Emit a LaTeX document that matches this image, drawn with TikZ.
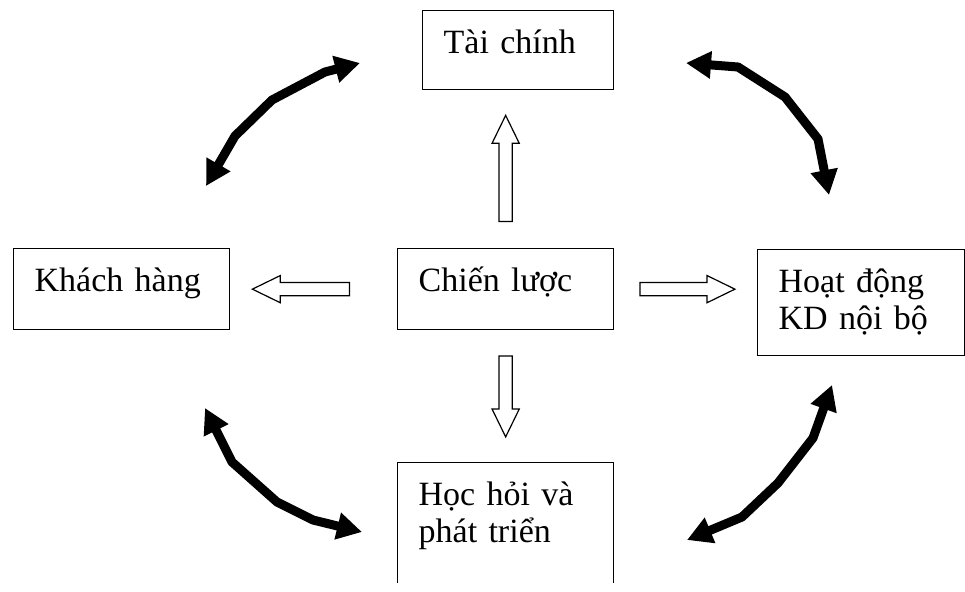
\documentclass[tikz,border=0pt]{standalone}
\usepackage{fontspec}
\setmainfont{Liberation Serif}
\usetikzlibrary{shapes.arrows, arrows.meta}

\begin{document}
\begin{tikzpicture}[x=1pt, y=-1pt, box/.style={draw, rectangle, anchor=north west, align=left, line width=1.3pt, inner xsep=21pt, inner ysep=0pt, text height=43pt, font=\fontsize{34pt}{37pt}\selectfont}, hollow/.style={draw, single arrow, line width=1.2pt, inner sep=0pt, text height=12pt, text depth=0pt, single arrow head extend=7pt, single arrow tip angle=52, minimum height=#1}, link/.style={line width=9pt, line join=round, {Triangle[length=25pt, width=26pt]}-{Triangle[length=25pt, width=26pt]}}]
            \useasboundingbox (0,0) rectangle (965,591);
            % boxes
            \node[box, text width=149pt, text depth=36pt] (fin) at (422,10) {Tài chính};
            \node[box, text width=174pt, text depth=38pt] (cust) at (13,248) {Khách hàng};
            \node[box, text width=174pt, text depth=38pt] (strat) at (397,248) {Chiến lược};
            \node[box, text width=165pt, text depth=63pt] (proc) at (757,249) {Hoạt động\\KD nội bộ};
            \begin{scope}
                \clip (0,0) rectangle (965,582);
                \node[box, text width=174pt, text depth=110pt] (learn) at (397,462) {Học hỏi và\\phát triển};
            \end{scope}

            % hollow arrows
            \node[hollow=106pt, rotate=90, anchor=tail] (aup) at ([yshift=26pt]strat.north) {};
            \node[hollow=81pt, rotate=-90, anchor=tail] (adown) at ([yshift=-25pt]strat.south) {};
            \node[hollow=97pt, rotate=180, anchor=tail] (aleft) at ([xshift=-47pt]strat.west) {};
            \node[hollow=95pt, anchor=tail] (aright) at ([xshift=25pt]strat.east) {};

            % ends of the bold arrows
            \coordinate (cf1) at (206,186);
            \coordinate (cf2) at (360,63);
            \coordinate (fp1) at (686,63);
            \coordinate (fp2) at (829,195);
            \coordinate (pl1) at (832,385);
            \coordinate (pl2) at (687,540);
            \coordinate (lc1) at (362,532);
            \coordinate (lc2) at (205,408);

            % bold arrows
            \draw[link] (cf1) -- (235,136) -- (272,100) -- (325,72) -- (cf2);
            \draw[link] (fp1) -- (738,67) -- (785,97) -- (818,139) -- (fp2);
            \draw[link] (pl1) -- (813,438) -- (778,483) -- (742,517) -- (pl2);
            \draw[link] (lc1) -- (313,520) -- (277,502) -- (232,462) -- (lc2);
\end{tikzpicture}
\end{document}
